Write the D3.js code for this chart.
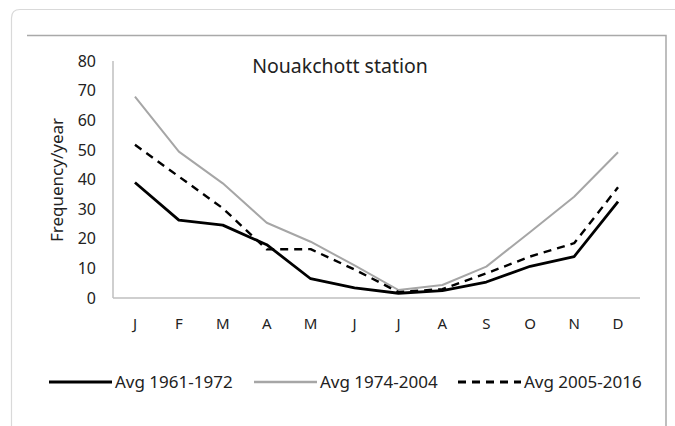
<!DOCTYPE html>
<html>
<head>
<meta charset="utf-8">
<script src="https://cdn.jsdelivr.net/npm/d3@7"></script>
<style>
  html, body { margin: 0; padding: 0; background: #fff; }
  svg { display: block; }
  text { font-family: "Noto Sans", "Open Sans", sans-serif; fill: #222; }
</style>
</head>
<body>
<svg id="chart" width="675" height="426"></svg>
<script>
const months = ["J","F","M","A","M","J","J","A","S","O","N","D"];
const avg1961_1972 = [39, 26.3, 24.6, 18, 6.5, 3.4, 1.6, 2.5, 5.4, 10.7, 14, 32.5];
const avg1974_2004 = [68, 49.4, 38.7, 25.4, 19, 11, 2.7, 4.4, 10.6, 22.3, 34.2, 49.2];
const avg2005_2016 = [51.7, 41, 30.3, 16.4, 16.5, 9.6, 2, 3, 8.3, 14, 18.5, 37.4];
const yTicks = [0, 10, 20, 30, 40, 50, 60, 70, 80];
const seriesNames = ["Avg 1961-1972", "Avg 1974-2004", "Avg 2005-2016"];

const series = [
  { name: seriesNames[0], values: avg1961_1972, color: "#000", width: 2.8, dash: null },
  { name: seriesNames[1], values: avg1974_2004, color: "#a6a6a6", width: 2, dash: null },
  { name: seriesNames[2], values: avg2005_2016, color: "#000", width: 2.4, dash: "8,6" }
];

const svg = d3.select("#chart");

// frame borders
svg.append("path")
  .attr("d", "M11.5,426 L11.5,18 Q11.5,9.5 20,9.5 L675,9.5")
  .attr("fill", "none").attr("stroke", "#d9d9d9").attr("stroke-width", 1.2);
svg.append("path")
  .attr("d", "M27,35.5 L666,35.5 L666,426")
  .attr("fill", "none").attr("stroke", "#a9a9a9").attr("stroke-width", 1.5);

const plotLeft = 113, plotRight = 640, plotTop = 61, plotBottom = 298;
const x = d3.scaleBand().domain(d3.range(months.length)).range([plotLeft, plotRight]);
const y = d3.scaleLinear().domain([0, 80]).range([plotBottom, plotTop]);

// axes lines
svg.append("line").attr("x1", plotLeft).attr("x2", plotLeft).attr("y1", plotTop).attr("y2", plotBottom)
  .attr("stroke", "#bfbfbf").attr("stroke-width", 1.5);
svg.append("line").attr("x1", plotLeft).attr("x2", plotRight).attr("y1", plotBottom).attr("y2", plotBottom)
  .attr("stroke", "#bfbfbf").attr("stroke-width", 1.5);

// y tick labels
const yAxis = d3.axisLeft(y).tickValues(yTicks).tickSize(0).tickPadding(17);
const gy = svg.append("g").attr("transform", `translate(${plotLeft},0)`).call(yAxis);
gy.select(".domain").remove();
gy.selectAll("text").style("font-family", '"Noto Sans", sans-serif').style("font-size", "16px").attr("fill", "#222");

// x tick labels
const xAxis = d3.axisBottom(x).tickFormat(i => months[i]).tickSize(0).tickPadding(20);
const gx = svg.append("g").attr("transform", `translate(0,${plotBottom})`).call(xAxis);
gx.select(".domain").remove();
gx.selectAll("text").style("font-family", '"Noto Sans", sans-serif').style("font-size", "15px").attr("fill", "#222");

// lines
const line = d3.line().x((d, i) => x(i) + x.bandwidth() / 2).y(d => y(d));
series.forEach(s => {
  svg.append("path")
    .datum(s.values)
    .attr("d", line)
    .attr("fill", "none")
    .attr("stroke", s.color)
    .attr("stroke-width", s.width)
    .attr("stroke-dasharray", s.dash)
    .attr("stroke-linejoin", "round");
});

// title
svg.append("text").attr("x", 340).attr("y", 73).attr("text-anchor", "middle")
  .style("font-size", "19.5px").text("Nouakchott station");

// y axis title
svg.append("text").attr("transform", "translate(63,180) rotate(-90)")
  .attr("text-anchor", "middle").style("font-size", "17px").text("Frequency/year");

// legend
const legendX = [49, 254, 458];
series.forEach((s, i) => {
  const g = svg.append("g").attr("transform", `translate(${legendX[i]},382)`);
  g.append("line").attr("x1", 0).attr("x2", 63).attr("y1", 0).attr("y2", 0)
    .attr("stroke", s.color).attr("stroke-width", s.width + 0.4)
    .attr("stroke-dasharray", s.dash);
  g.append("text").attr("x", 66).attr("y", 6).style("font-size", "17px").text(s.name);
});
</script>
</body>
</html>
